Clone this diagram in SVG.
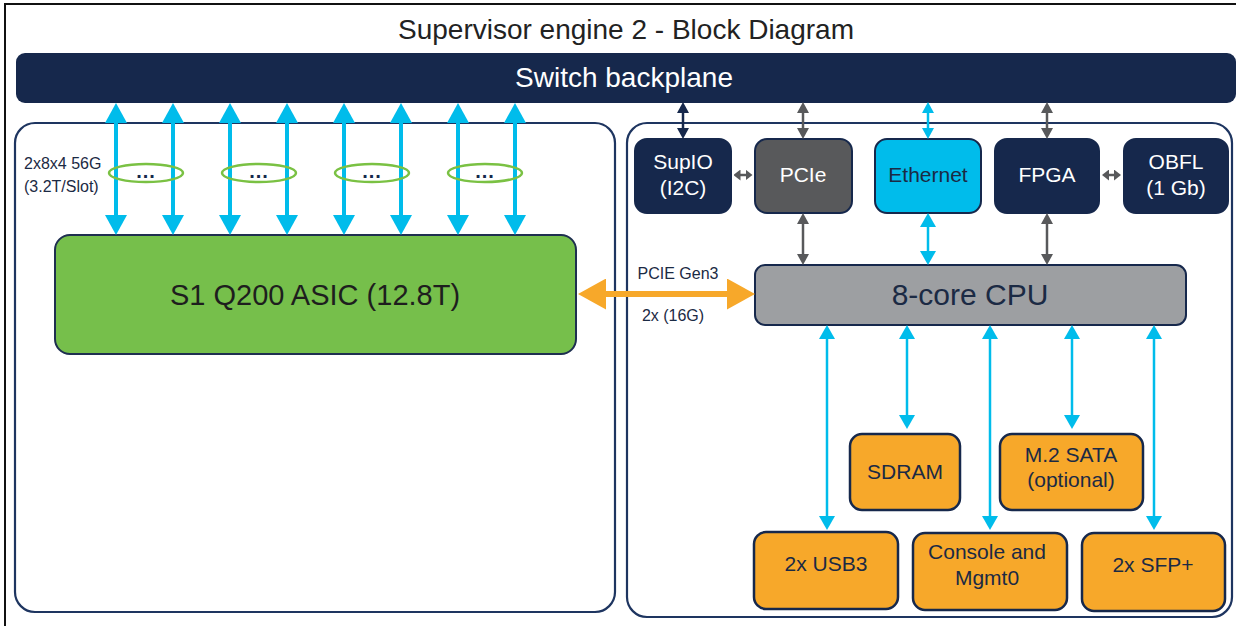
<svg xmlns="http://www.w3.org/2000/svg" width="1236" height="626" viewBox="0 0 1236 626">
<defs>
<style>
text{font-family:"Liberation Sans",Arial,sans-serif;text-anchor:middle}
.title{font-size:28px;fill:#222}
.w{fill:#fff}
.d{fill:#1b2a44}
.bx{font-size:21px}
.panel{fill:none;stroke:#1e3560;stroke-width:2.2}
.navy{fill:#16284c;stroke:#16284c;stroke-width:2}
.org{fill:#f7a82a;stroke:#16284c;stroke-width:2.5}
.blue{stroke:#00bceb;fill:none}
.gray{stroke:#58595b;fill:none;stroke-width:2.5}
.dk{stroke:#16284c;fill:none;stroke-width:2.5}
.ell{fill:none;stroke:#7ac143;stroke-width:2.5}
.dots{font-size:20px;font-weight:bold;fill:#16284c;letter-spacing:1px}
.lbl{font-size:16px;fill:#1b2a44}
</style>
<marker id="mbl" markerUnits="userSpaceOnUse" markerWidth="20" markerHeight="22" refX="10" refY="11" orient="auto-start-reverse" viewBox="0 0 20 22"><path d="M0,0 L20,11 L0,22 z" fill="#00bceb"/></marker>
<marker id="mbs" markerUnits="userSpaceOnUse" markerWidth="14" markerHeight="16" refX="7" refY="8" orient="auto-start-reverse" viewBox="0 0 14 16"><path d="M0,0 L14,8 L0,16 z" fill="#00bceb"/></marker>
<marker id="mbs2" markerUnits="userSpaceOnUse" markerWidth="11" markerHeight="12" refX="5" refY="6" orient="auto-start-reverse" viewBox="0 0 11 12"><path d="M0,0 L11,6 L0,12 z" fill="#00bceb"/></marker>
<marker id="mgr" markerUnits="userSpaceOnUse" markerWidth="11" markerHeight="12" refX="5" refY="6" orient="auto-start-reverse" viewBox="0 0 11 12"><path d="M0,0 L11,6 L0,12 z" fill="#58595b"/></marker>
<marker id="mgh" markerUnits="userSpaceOnUse" markerWidth="7" markerHeight="11" refX="3.5" refY="5.5" orient="auto-start-reverse" viewBox="0 0 7 11"><path d="M0,0 L7,5.5 L0,11 z" fill="#58595b"/></marker>
<marker id="mdk" markerUnits="userSpaceOnUse" markerWidth="11" markerHeight="12" refX="5" refY="6" orient="auto-start-reverse" viewBox="0 0 11 12"><path d="M0,0 L11,6 L0,12 z" fill="#16284c"/></marker>
<marker id="mor" markerUnits="userSpaceOnUse" markerWidth="28" markerHeight="31" refX="14" refY="15.5" orient="auto-start-reverse" viewBox="0 0 28 31"><path d="M0,0 L28,15.5 L0,31 z" fill="#f7a82a"/></marker>
</defs>
<rect x="0" y="0" width="1236" height="626" fill="#fff"/>
<rect x="5" y="4" width="1240" height="640" fill="none" stroke="#111" stroke-width="2"/>
<text class="title" x="626" y="39">Supervisor engine 2 - Block Diagram</text>

<g id="backplane">
<rect x="16" y="53" width="1220" height="50" rx="9" fill="#16284c"/>
<text class="w" x="624" y="87" font-size="28">Switch backplane</text>
</g>
<g id="left-panel"><rect class="panel" x="15" y="123" width="600" height="489" rx="20"/></g>
<g id="right-panel"><rect class="panel" x="627" y="123" width="605" height="494" rx="20"/></g>

<g id="asic">
<rect x="55" y="235" width="521" height="119" rx="15" fill="#76bf4b" stroke="#1e2f50" stroke-width="2"/>
<text x="315" y="305" font-size="29" fill="#1e1e1e">S1 Q200 ASIC (12.8T)</text>
</g>

<g id="supio"><rect class="navy" x="635" y="139" width="96" height="74" rx="12"/><text class="w bx" x="683" y="169">SupIO</text><text class="w bx" x="683" y="195">(I2C)</text></g>
<g id="pcie"><rect x="755" y="139" width="97" height="74" rx="12" fill="#58595b" stroke="#16284c" stroke-width="2"/><text class="w bx" x="803" y="182">PCIe</text></g>
<g id="ethernet"><rect x="875" y="139" width="106" height="74" rx="12" fill="#00bceb" stroke="#16284c" stroke-width="2"/><text class="d bx" x="928" y="182">Ethernet</text></g>
<g id="fpga"><rect class="navy" x="995" y="139" width="104" height="74" rx="12"/><text class="w bx" x="1047" y="182">FPGA</text></g>
<g id="obfl"><rect class="navy" x="1124" y="139" width="104" height="74" rx="12"/><text class="w bx" x="1176" y="169">OBFL</text><text class="w bx" x="1176" y="195">(1 Gb)</text></g>

<g id="cpu"><rect x="755" y="265" width="431" height="60" rx="10" fill="#9d9fa2" stroke="#16284c" stroke-width="2"/><text class="d" x="970" y="305" font-size="30">8-core CPU</text></g>

<g id="sdram"><rect class="org" x="850" y="434" width="110" height="76" rx="12"/><text class="d bx" x="905" y="479">SDRAM</text></g>
<g id="m2sata"><rect class="org" x="1000" y="434" width="143" height="76" rx="12"/><text class="d bx" x="1071" y="462">M.2 SATA</text><text class="d bx" x="1071" y="487">(optional)</text></g>
<g id="usb3"><rect class="org" x="754" y="532" width="144" height="77" rx="12"/><text class="d bx" x="826" y="571">2x USB3</text></g>
<g id="console"><rect class="org" x="913" y="533" width="154" height="77" rx="12"/><text class="d bx" x="987" y="559">Console and</text><text class="d bx" x="987" y="585">Mgmt0</text></g>
<g id="sfp"><rect class="org" x="1082" y="533" width="143" height="78" rx="12"/><text class="d bx" x="1153" y="572">2x SFP+</text></g>

<g id="labels">
<text class="lbl" x="24" y="169" style="text-anchor:start">2x8x4 56G</text>
<text class="lbl" x="24" y="192" style="text-anchor:start">(3.2T/Slot)</text>
<text class="lbl" x="678" y="279">PCIE Gen3</text>
<text class="lbl" x="673" y="321">2x (16G)</text>
</g>

<g id="connectors">
<g class="blue" stroke-width="4" marker-start="url(#mbl)" marker-end="url(#mbl)">
<line x1="116" y1="113" x2="116" y2="225"/>
<line x1="173" y1="113" x2="173" y2="225"/>
<line x1="230" y1="113" x2="230" y2="225"/>
<line x1="287" y1="113" x2="287" y2="225"/>
<line x1="344" y1="113" x2="344" y2="225"/>
<line x1="401" y1="113" x2="401" y2="225"/>
<line x1="458" y1="113" x2="458" y2="225"/>
<line x1="515" y1="113" x2="515" y2="225"/>
</g>
<g class="ell">
<ellipse cx="146" cy="173" rx="37" ry="9"/>
<ellipse cx="259" cy="173" rx="37" ry="9"/>
<ellipse cx="372" cy="173" rx="37" ry="9"/>
<ellipse cx="485" cy="173" rx="37" ry="9"/>
</g>
<g class="dots">
<text x="146" y="178">...</text>
<text x="259" y="178">...</text>
<text x="372" y="178">...</text>
<text x="485" y="178">...</text>
</g>
<line x1="592" y1="294" x2="741" y2="294" stroke="#f7a82a" stroke-width="6" marker-start="url(#mor)" marker-end="url(#mor)"/>
<line class="dk" x1="683" y1="108" x2="683" y2="133" marker-start="url(#mdk)" marker-end="url(#mdk)"/>
<g class="gray" marker-start="url(#mgr)" marker-end="url(#mgr)">
<line x1="803" y1="108" x2="803" y2="133"/>
<line x1="1047" y1="108" x2="1047" y2="133"/>
<line x1="803" y1="219" x2="803" y2="259"/>
<line x1="1047" y1="219" x2="1047" y2="259"/>
</g>
<g class="gray" marker-start="url(#mgh)" marker-end="url(#mgh)">
<line x1="737" y1="175" x2="749" y2="175"/>
<line x1="1105.5" y1="175" x2="1117.5" y2="175"/>
</g>
<line class="blue" stroke-width="2.5" x1="928" y1="108" x2="928" y2="133" marker-start="url(#mbs2)" marker-end="url(#mbs2)"/>
<g class="blue" stroke-width="2.5" marker-start="url(#mbs)" marker-end="url(#mbs)">
<line x1="928" y1="220" x2="928" y2="258"/>
<line x1="827" y1="332" x2="827" y2="523"/>
<line x1="907" y1="332" x2="907" y2="422"/>
<line x1="990" y1="332" x2="990" y2="523"/>
<line x1="1072" y1="332" x2="1072" y2="422"/>
<line x1="1154" y1="332" x2="1154" y2="523"/>
</g>
</g>
</svg>
